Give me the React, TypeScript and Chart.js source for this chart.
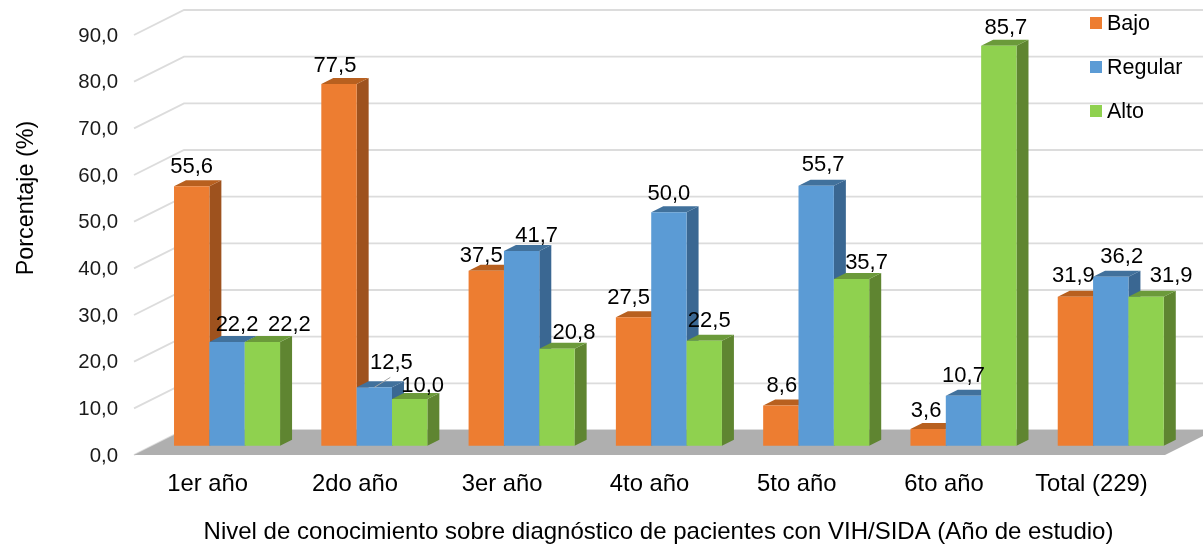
import React, { useEffect, useRef } from "react";
import { Chart, registerables } from "chart.js";

Chart.register(...registerables);

const categories = ["1er año", "2do año", "3er año", "4to año", "5to año", "6to año", "Total (229)"];
const bajo = [55.6, 77.5, 37.5, 27.5, 8.6, 3.6, 31.9];
const regular = [22.2, 12.5, 41.7, 50.0, 55.7, 10.7, 36.2];
const alto = [22.2, 10.0, 20.8, 22.5, 35.7, 85.7, 31.9];
const seriesNames = ["Bajo", "Regular", "Alto"];

const xTitle = "Nivel de conocimiento sobre diagnóstico de pacientes con VIH/SIDA (Año de estudio)";
const yTitle = "Porcentaje (%)";

const FONT = "'Liberation Sans', Arial, sans-serif";

const FRONT = ["#ED7D31", "#5B9BD5", "#8FD14F"];
const SIDE = ["#9E521E", "#3A6792", "#5F8531"];
const TOP = ["#B8601F", "#41719C", "#6B9A3A"];

// Depth of the box that the chart stands in, and of each bar.
const WALL_DX = 50;
const WALL_DY = 25;
const BAR_SHIFT_X = 19.4;
const BAR_SHIFT_Y = 9.3;
const BAR_DX = 12;
const BAR_DY = 6;

// Label nudges relative to the centre of each bar's top front edge.
const labelNudge: [number, number][][] = [
  [[0, -19], [10, -17], [27, -17]],
  [[-4, -18], [17, -24], [13, -13]],
  [[-5, -15], [15, -15], [17, -16]],
  [[-5, -19], [0, -18], [5, -20]],
  [[1, -20], [7, -21], [15, -16]],
  [[-2, -18], [0, -20], [7, -18]],
  [[-2, -21], [11, -20], [25, -21]],
];

const fmt = (v: number) => v.toFixed(1).replace(".", ",");

const box3d = {
  id: "box3d",
  beforeDatasetsDraw(chart: any) {
    const { ctx, chartArea, scales } = chart;
    const { left, right, bottom } = chartArea;
    const y = scales.y;
    ctx.save();
    // wall lines
    ctx.strokeStyle = "#DCDCDC";
    ctx.lineWidth = 1.8;
    y.ticks.forEach((t: any) => {
      const py = y.getPixelForValue(t.value);
      ctx.beginPath();
      ctx.moveTo(left, py);
      ctx.lineTo(left + WALL_DX, py - WALL_DY);
      ctx.lineTo(right + WALL_DX, py - WALL_DY);
      ctx.stroke();
    });
    // floor
    ctx.fillStyle = "#AFAFAF";
    ctx.beginPath();
    ctx.moveTo(left, bottom);
    ctx.lineTo(right, bottom);
    ctx.lineTo(right + WALL_DX, bottom - WALL_DY);
    ctx.lineTo(left + WALL_DX, bottom - WALL_DY);
    ctx.closePath();
    ctx.fill();
    // bars, painted from left to right
    chart.data.datasets.forEach((_: any, di: number) => {
      const meta = chart.getDatasetMeta(di);
      meta.data.forEach((el: any) => {
        const p = el.getProps(["x", "y", "base", "width"], true);
        const x1 = p.x + p.width / 2 + BAR_SHIFT_X;
        const x0 = p.x - p.width / 2 + BAR_SHIFT_X;
        const yt = p.y - BAR_SHIFT_Y;
        const yb = p.base - BAR_SHIFT_Y;
        ctx.fillStyle = SIDE[di];
        ctx.beginPath();
        ctx.moveTo(x1, yt);
        ctx.lineTo(x1 + BAR_DX, yt - BAR_DY);
        ctx.lineTo(x1 + BAR_DX, yb - BAR_DY);
        ctx.lineTo(x1, yb);
        ctx.closePath();
        ctx.fill();
        ctx.fillStyle = TOP[di];
        ctx.beginPath();
        ctx.moveTo(x0, yt);
        ctx.lineTo(x0 + BAR_DX, yt - BAR_DY);
        ctx.lineTo(x1 + BAR_DX, yt - BAR_DY);
        ctx.lineTo(x1, yt);
        ctx.closePath();
        ctx.fill();
        ctx.save();
        ctx.translate(BAR_SHIFT_X, -BAR_SHIFT_Y);
        el.draw(ctx);
        ctx.restore();
      });
    });
    ctx.restore();
    return false;
  },
  afterDraw(chart: any) {
    const { ctx, chartArea } = chart;
    ctx.save();
    ctx.fillStyle = "#000";
    ctx.textBaseline = "middle";
    ctx.textAlign = "center";
    // leader line of the "12,5" label
    const lead = chart.getDatasetMeta(1).data[1];
    ctx.strokeStyle = "#A6A6A6";
    ctx.lineWidth = 1;
    ctx.beginPath();
    ctx.moveTo(lead.x + BAR_SHIFT_X, lead.y - BAR_SHIFT_Y);
    ctx.lineTo(lead.x + BAR_SHIFT_X + 16, lead.y - BAR_SHIFT_Y - 10);
    ctx.stroke();
    // value labels
    ctx.font = `22px ${FONT}`;
    chart.data.datasets.forEach((ds: any, di: number) => {
      chart.getDatasetMeta(di).data.forEach((el: any, i: number) => {
        const [nx, ny] = labelNudge[i][di];
        ctx.fillText(fmt(ds.data[i]), el.x + BAR_SHIFT_X + nx, el.y - BAR_SHIFT_Y + ny);
      });
    });
    // axis titles
    ctx.font = `24px ${FONT}`;
    ctx.fillText(xTitle, 658.5, 532);
    ctx.font = `23.4px ${FONT}`;
    ctx.save();
    ctx.translate(27, 198);
    ctx.rotate(-Math.PI / 2);
    ctx.fillText(yTitle, 0, 0);
    ctx.restore();
    // legend
    ctx.font = `21.5px ${FONT}`;
    ctx.textAlign = "left";
    chart.data.datasets.forEach((ds: any, di: number) => {
      const cy = 23 + di * 44;
      ctx.fillStyle = ds.backgroundColor;
      ctx.fillRect(chartArea.right - 75, cy - 6, 12, 12);
      ctx.fillStyle = "#000";
      ctx.fillText(ds.label, chartArea.right - 58, cy + 1.5);
    });
    ctx.restore();
  },
};

export default function App() {
  const ref = useRef<HTMLCanvasElement | null>(null);
  useEffect(() => {
    if (!ref.current) return;
    const chart = new Chart(ref.current, {
      type: "bar",
      data: {
        labels: categories,
        datasets: [bajo, regular, alto].map((data, i) => ({
          label: seriesNames[i],
          data,
          backgroundColor: FRONT[i],
          borderWidth: 0,
          categoryPercentage: 0.72,
          barPercentage: 1,
        })),
      },
      plugins: [box3d],
      options: {
        responsive: false,
        animation: false,
        layout: { padding: { top: 35, right: 38, left: 0, bottom: 0 } },
        plugins: {
          legend: { display: false },
          title: { display: false },
          tooltip: { enabled: false },
        },
        scales: {
          x: {
            grid: { display: false, drawTicks: false },
            border: { display: false },
            ticks: { color: "#000", padding: 15, maxRotation: 0, autoSkip: false, font: { family: FONT, size: 23.8 } },
            afterFit(s: any) { s.height = 90; },
          },
          y: {
            min: 0,
            max: 90,
            grid: { display: false, drawTicks: false },
            border: { display: false },
            ticks: { stepSize: 10, color: "#1A1A1A", padding: 16, labelOffset: 1, callback: (v: any) => fmt(Number(v)), font: { family: FONT, size: 20.4 } },
            afterFit(s: any) { s.width = 134; },
          },
        },
      },
    } as any);
    return () => chart.destroy();
  }, []);
  return <canvas ref={ref} width={1203} height={545} style={{ position: "fixed", left: 0, top: 0, display: "block" }} />;
}
